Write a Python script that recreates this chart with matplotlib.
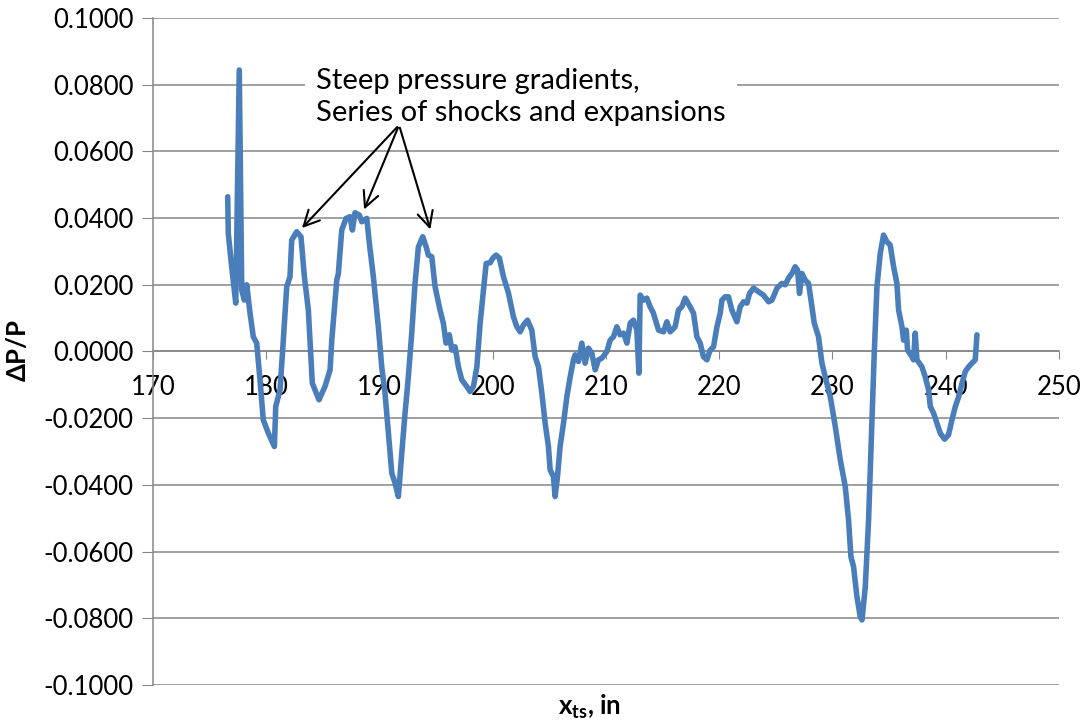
import matplotlib
matplotlib.use("Agg")
import matplotlib.pyplot as plt
from matplotlib.ticker import FuncFormatter, MultipleLocator

plt.rcParams["font.family"] = ["Lato", "DejaVu Sans"]
plt.rcParams["mathtext.fontset"] = "custom"
plt.rcParams["mathtext.rm"] = "Lato"
plt.rcParams["mathtext.bf"] = "Lato:bold"

# x_ts position (in) and pressure ratio dP/P
x_ts = [
    176.60, 176.65, 176.95, 177.31, 177.62, 177.84, 178.07, 178.28, 178.57, 178.86,
    179.16, 179.45, 179.74, 180.19, 180.72, 180.84, 181.22, 181.51, 181.81, 182.10,
    182.25, 182.69, 183.07, 183.37, 183.72, 184.07, 184.31, 184.66, 185.19, 185.64,
    185.79, 185.99, 186.23, 186.37, 186.67, 187.05, 187.40, 187.61, 187.84, 188.22,
    188.44, 188.88, 189.11, 189.46, 189.90, 190.20, 190.49, 190.79, 191.09, 191.38,
    191.67, 191.97, 192.26, 192.55, 192.85, 193.14, 193.44, 193.82, 194.12, 194.32,
    194.62, 194.91, 195.35, 195.64, 195.88, 196.17, 196.39, 196.68, 196.97, 197.27,
    197.71, 198.00, 198.30, 198.60, 198.89, 199.18, 199.42, 199.77, 200.01, 200.30,
    200.59, 200.95, 201.39, 201.83, 202.13, 202.42, 202.71, 203.07, 203.45, 203.75,
    204.04, 204.34, 204.63, 204.92, 205.07, 205.36, 205.51, 205.72, 205.95, 206.25,
    206.55, 206.84, 207.13, 207.28, 207.57, 207.87, 208.16, 208.45, 208.75, 209.05,
    209.34, 209.64, 210.08, 210.37, 210.66, 210.96, 211.25, 211.55, 211.85, 212.14,
    212.43, 212.73, 212.91, 213.02, 213.31, 213.61, 213.90, 214.19, 214.64, 215.08,
    215.38, 215.67, 216.11, 216.40, 216.70, 216.99, 217.43, 217.73, 218.03, 218.32,
    218.61, 218.91, 219.20, 219.50, 219.80, 220.09, 220.24, 220.53, 220.82, 221.12,
    221.56, 221.85, 222.15, 222.45, 222.68, 223.03, 223.47, 223.91, 224.36, 224.66,
    225.10, 225.54, 225.83, 226.12, 226.42, 226.71, 226.92, 227.09, 227.30, 227.60,
    227.89, 228.19, 228.39, 228.77, 229.07, 229.36, 229.81, 230.25, 230.69, 231.13,
    231.42, 231.63, 231.86, 232.16, 232.45, 232.61, 232.90, 233.19, 233.49, 233.69,
    233.93, 234.22, 234.51, 234.81, 235.10, 235.40, 235.69, 235.84, 236.14, 236.28,
    236.52, 236.63, 237.02, 237.16, 237.31, 237.46, 237.90, 238.19, 238.49, 238.64,
    238.93, 239.23, 239.52, 239.90, 240.25, 240.55, 240.85, 241.14, 241.44, 241.73,
    242.02, 242.32, 242.61, 242.76,
]
dp_p = [
    0.0464, 0.0354, 0.0254, 0.0145, 0.0844, 0.0184, 0.0154, 0.0200, 0.0115, 0.0044,
    0.0025, -0.0085, -0.0205, -0.0245, -0.0285, -0.0165, -0.0115, 0.0034, 0.0194, 0.0224,
    0.0334, 0.0359, 0.0344, 0.0224, 0.0124, -0.0095, -0.0115, -0.0145, -0.0105, -0.0055,
    0.0034, 0.0115, 0.0214, 0.0234, 0.0364, 0.0399, 0.0404, 0.0364, 0.0416, 0.0409,
    0.0389, 0.0399, 0.0324, 0.0224, 0.0074, -0.0046, -0.0125, -0.0245, -0.0365, -0.0395,
    -0.0435, -0.0305, -0.0185, -0.0076, 0.0055, 0.0204, 0.0314, 0.0344, 0.0314, 0.0289,
    0.0284, 0.0194, 0.0124, 0.0085, 0.0025, 0.0050, 0.0004, 0.0014, -0.0046, -0.0085,
    -0.0105, -0.0120, -0.0105, -0.0046, 0.0085, 0.0184, 0.0264, 0.0266, 0.0280, 0.0289,
    0.0280, 0.0224, 0.0175, 0.0104, 0.0074, 0.0059, 0.0079, 0.0094, 0.0064, -0.0016,
    -0.0046, -0.0125, -0.0215, -0.0285, -0.0355, -0.0375, -0.0435, -0.0375, -0.0285, -0.0215,
    -0.0135, -0.0076, -0.0025, -0.0010, -0.0030, 0.0025, -0.0035, 0.0010, -0.0005, -0.0055,
    -0.0025, -0.0020, 0.0000, 0.0034, 0.0044, 0.0074, 0.0050, 0.0055, 0.0025, 0.0085,
    0.0094, 0.0064, -0.0065, 0.0169, 0.0154, 0.0160, 0.0134, 0.0115, 0.0064, 0.0059,
    0.0089, 0.0059, 0.0074, 0.0124, 0.0134, 0.0160, 0.0134, 0.0115, 0.0044, 0.0025,
    -0.0016, -0.0025, 0.0004, 0.0014, 0.0074, 0.0115, 0.0154, 0.0164, 0.0164, 0.0124,
    0.0089, 0.0134, 0.0149, 0.0145, 0.0174, 0.0190, 0.0179, 0.0169, 0.0149, 0.0154,
    0.0190, 0.0204, 0.0200, 0.0220, 0.0234, 0.0254, 0.0244, 0.0174, 0.0234, 0.0214,
    0.0204, 0.0134, 0.0085, 0.0044, -0.0035, -0.0076, -0.0136, -0.0225, -0.0325, -0.0405,
    -0.0505, -0.0615, -0.0645, -0.0735, -0.0795, -0.0805, -0.0705, -0.0505, -0.0205, -0.0005,
    0.0194, 0.0294, 0.0349, 0.0329, 0.0319, 0.0254, 0.0204, 0.0124, 0.0074, 0.0034,
    0.0064, 0.0004, -0.0016, -0.0025, 0.0055, -0.0025, -0.0046, -0.0076, -0.0115, -0.0165,
    -0.0185, -0.0215, -0.0245, -0.0263, -0.0250, -0.0205, -0.0165, -0.0136, -0.0095, -0.0060,
    -0.0046, -0.0035, -0.0025, 0.0050,
]

note = "Steep pressure gradients,\nSeries of shocks and expansions"
arrow_tips = [(182.99, 0.0364), (188.55, 0.0418), (194.56, 0.0358)]

fig = plt.figure(figsize=(10.88, 7.28), dpi=100)
ax = fig.add_axes([0.1406, 0.0591, 0.8327, 0.9162])

grid_c = "#868686"
ax.plot(x_ts, dp_p, color="#4A7EBB", lw=4.0, solid_joinstyle="round",
        solid_capstyle="round", zorder=3)

ax.set_xlim(170, 250)
ax.set_ylim(-0.1, 0.1)
ax.xaxis.set_major_locator(MultipleLocator(10))
ax.yaxis.set_major_locator(MultipleLocator(0.02))
ax.yaxis.set_major_formatter(FuncFormatter(lambda v, _: f"{v + 0.0:.4f}" if abs(v) > 1e-9 else "0.0000"))
ax.grid(axis="y", color=grid_c, lw=1.1)
ax.set_axisbelow(True)

for s in ("top", "right"):
    ax.spines[s].set_visible(False)
ax.spines["left"].set_color(grid_c)
ax.spines["left"].set_linewidth(1.1)
# x axis sits on the zero line
ax.spines["bottom"].set_position(("data", 0))
ax.spines["bottom"].set_color(grid_c)
ax.spines["bottom"].set_linewidth(1.1)

ax.tick_params(axis="x", direction="out", length=6, color=grid_c, pad=11, labelsize=18.5)
ax.tick_params(axis="y", direction="out", length=8, color=grid_c, pad=6, labelsize=18.5)

ax.set_ylabel("ΔP/P", fontsize=18.5, fontweight="bold")
ax.yaxis.set_label_coords(-0.136, 0.502)
ax.set_xlabel(r"$\mathbf{x}_{\mathbf{ts}}$, in", fontsize=18.5, fontweight="bold", va="center")
ax.xaxis.set_label_coords(0.482, -0.033)

ax.text(184.4, 0.0763, note, fontsize=21, va="center", ha="left", linespacing=1.25,
        bbox=dict(facecolor="white", edgecolor="none", pad=8), zorder=4)
for tip in arrow_tips:
    ax.annotate("", xy=tip, xytext=(191.73, 0.0679),
                arrowprops=dict(arrowstyle="->", color="black", lw=1.5,
                                mutation_scale=28), zorder=5)

fig.savefig("out.png", dpi=100)
